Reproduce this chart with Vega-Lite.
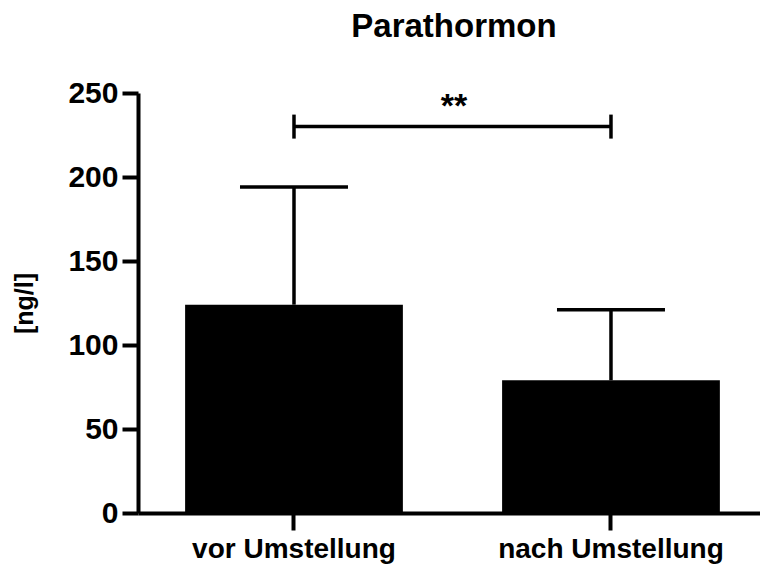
{
  "$schema": "https://vega.github.io/schema/vega-lite/v6.json",
  "autosize": "none",
  "width": 622,
  "height": 420,
  "padding": {"left": 138, "top": 93, "right": 0, "bottom": 51},
  "background": "white",
  "title": {"text": "Parathormon", "font": "Liberation Sans", "fontWeight": "bold", "fontSize": 33, "anchor": "middle", "baseline": "alphabetic", "offset": 8, "dx": 5, "color": "black"},
  "datasets": {
    "bars": [
      {"group": "vor Umstellung", "mean": 124, "upper": 194},
      {"group": "nach Umstellung", "mean": 79, "upper": 121}
    ],
    "sig": [
      {"from": "vor Umstellung", "to": "nach Umstellung", "y": 230, "label": "**"}
    ],
    "ends": [
      {"group": "vor Umstellung", "y": 230},
      {"group": "nach Umstellung", "y": 230}
    ]
  },
  "config": {
    "view": {"stroke": null},
    "axis": {"labelFont": "Liberation Sans", "titleFont": "Liberation Sans", "labelFontWeight": "bold", "titleFontWeight": "bold", "labelColor": "black", "titleColor": "black", "domainColor": "black", "tickColor": "black", "grid": false, "labelLimit": 0}
  },
  "encoding": {
    "x": {"field": "group", "type": "nominal",
      "scale": {"domain": ["vor Umstellung", "nach Umstellung"], "paddingInner": 0.313, "paddingOuter": 0.1376, "align": 0.54},
      "axis": {"title": null, "labelAngle": 0, "labelFontSize": 28, "domainWidth": 4, "tickWidth": 4, "tickSize": 17, "labelPadding": 5}}
  },
  "layer": [
    {
      "data": {"name": "bars"},
      "mark": {"type": "bar", "color": "black"},
      "encoding": {
        "y": {"field": "mean", "type": "quantitative",
          "scale": {"domain": [0, 250], "nice": false},
          "axis": {"values": [0, 50, 100, 150, 200, 250], "title": "[ng/l]", "titleFontSize": 25, "titlePadding": 30, "labelFontSize": 30, "domainWidth": 4, "tickWidth": 4, "tickSize": 16, "labelPadding": 4}}
      }
    },
    {
      "data": {"name": "bars"},
      "mark": {"type": "rule", "color": "black", "strokeWidth": 3.5},
      "encoding": {
        "y": {"field": "mean", "type": "quantitative"},
        "y2": {"field": "upper"}
      }
    },
    {
      "data": {"name": "bars"},
      "mark": {"type": "tick", "color": "black", "thickness": 3.5, "size": 108, "orient": "horizontal", "opacity": 1},
      "encoding": {
        "y": {"field": "upper", "type": "quantitative"}
      }
    },
    {
      "data": {"name": "sig"},
      "mark": {"type": "rule", "color": "black", "strokeWidth": 3.5},
      "encoding": {
        "x": {"field": "from", "type": "nominal"},
        "x2": {"field": "to"},
        "y": {"field": "y", "type": "quantitative"}
      }
    },
    {
      "data": {"name": "ends"},
      "mark": {"type": "tick", "color": "black", "thickness": 3.5, "size": 24, "orient": "vertical", "opacity": 1},
      "encoding": {
        "y": {"field": "y", "type": "quantitative"}
      }
    },
    {
      "data": {"name": "sig"},
      "mark": {"type": "text", "font": "Liberation Sans", "fontWeight": "bold", "fontSize": 34, "color": "black", "baseline": "middle", "dx": 160, "dy": -20},
      "encoding": {
        "x": {"field": "from", "type": "nominal"},
        "y": {"field": "y", "type": "quantitative"},
        "text": {"field": "label"}
      }
    }
  ]
}
